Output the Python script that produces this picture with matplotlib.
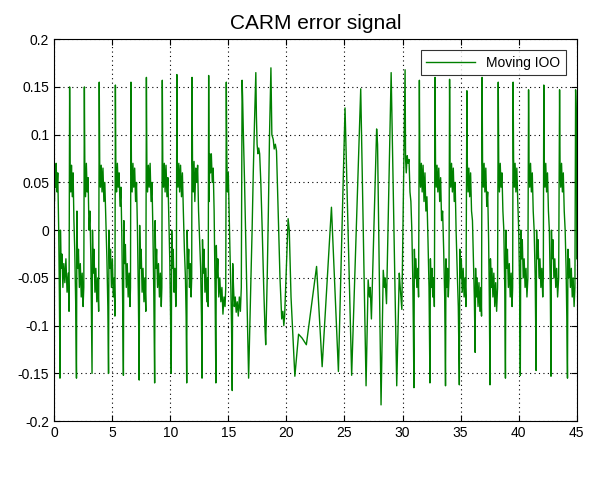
import numpy as np
import matplotlib
matplotlib.use("Agg")
import matplotlib.pyplot as plt

# CARM error signal, (time, error) pairs, three stretches

# fast part, 0 .. 18.7
fast_left = [
    (0.00, 0.115), (0.03, 0.03), (0.07, 0.068), (0.12, 0.045), (0.18, 0.07), (0.25, 0.04), (0.32, 0.06), (0.40, 0.0), (0.46, -0.07), (0.51, -0.155),
    (0.55, 0.0), (0.61, -0.04), (0.68, -0.025), (0.76, -0.06), (0.84, -0.035), (0.93, -0.055), (1.02, -0.03), (1.12, -0.065), (1.22, -0.045), (1.29, -0.085), (1.34, 0.15),
    (1.38, 0.065), (1.44, 0.04), (1.50, 0.068), (1.57, 0.035), (1.64, 0.06), (1.71, 0.01), (1.78, -0.02), (1.86, -0.075), (1.93, -0.155),
    (1.97, 0.02), (2.03, -0.04), (2.10, -0.02), (2.18, -0.06), (2.26, -0.035), (2.34, -0.07), (2.42, -0.045), (2.50, -0.08), (2.56, -0.06), (2.61, 0.15),
    (2.65, 0.065), (2.71, 0.035), (2.78, 0.07), (2.85, 0.04), (2.93, 0.055), (3.01, 0.0), (3.09, 0.02), (3.17, -0.03), (3.22, -0.09), (3.27, -0.15),
    (3.31, 0.0), (3.37, -0.045), (3.44, -0.02), (3.52, -0.065), (3.60, -0.04), (3.68, -0.075), (3.76, -0.05), (3.84, -0.085), (3.89, 0.155),
    (3.93, 0.07), (3.99, 0.045), (4.06, 0.068), (4.13, 0.04), (4.21, 0.065), (4.29, 0.03), (4.37, 0.05), (4.46, 0.01), (4.55, -0.03), (4.63, -0.08), (4.69, -0.15),
    (4.73, 0.0), (4.79, -0.04), (4.86, -0.02), (4.94, -0.06), (5.02, -0.03), (5.10, -0.07), (5.18, -0.05), (5.24, -0.09), (5.28, 0.152),
    (5.32, 0.065), (5.38, 0.04), (5.45, 0.07), (5.52, 0.045), (5.60, 0.06), (5.68, 0.025), (5.76, 0.045), (5.84, -0.01), (5.91, -0.08), (5.97, -0.152),
    (6.01, 0.01), (6.07, -0.035), (6.14, -0.015), (6.22, -0.06), (6.30, -0.035), (6.38, -0.07), (6.46, -0.045), (6.54, -0.08), (6.58, -0.06), (6.62, 0.155),
    (6.66, 0.068), (6.72, 0.04), (6.79, 0.07), (6.86, 0.045), (6.94, 0.065), (7.02, 0.03), (7.10, 0.05), (7.18, 0.0), (7.26, -0.07), (7.33, -0.157),
    (7.37, 0.005), (7.43, -0.04), (7.50, -0.02), (7.58, -0.065), (7.66, -0.04), (7.74, -0.075), (7.82, -0.05), (7.90, -0.085), (7.95, 0.16),
    (7.99, 0.07), (8.05, 0.04), (8.12, 0.068), (8.19, 0.045), (8.27, 0.07), (8.35, 0.03), (8.43, 0.05), (8.51, 0.0), (8.59, -0.07), (8.66, -0.16),
    (8.70, 0.01), (8.76, -0.04), (8.83, -0.02), (8.91, -0.06), (8.99, -0.035), (9.07, -0.07), (9.15, -0.045), (9.23, -0.08), (9.28, -0.06), (9.32, 0.157),
    (9.36, 0.07), (9.42, 0.045), (9.49, 0.07), (9.56, 0.04), (9.64, 0.068), (9.72, 0.035), (9.80, 0.055), (9.88, 0.01), (9.96, -0.03), (10.03, -0.09), (10.09, -0.15),
    (10.13, 0.0), (10.19, -0.04), (10.26, -0.02), (10.33, -0.065), (10.41, -0.04), (10.48, -0.08), (10.53, -0.06), (10.57, 0.163),
    (10.61, 0.07), (10.67, 0.045), (10.74, 0.07), (10.81, 0.04), (10.89, 0.068), (10.97, 0.035), (11.05, 0.06), (11.13, 0.02), (11.22, -0.02), (11.31, -0.05), (11.37, -0.09), (11.42, -0.16),
    (11.46, 0.0), (11.52, -0.04), (11.59, -0.02), (11.66, -0.06), (11.73, -0.035), (11.80, -0.07), (11.85, -0.05), (11.88, 0.16),
    (11.92, 0.07), (11.98, 0.04), (12.05, 0.072), (12.12, 0.03), (12.20, 0.065), (12.28, 0.05), (12.36, 0.068), (12.44, 0.02), (12.53, -0.01), (12.62, -0.04), (12.69, -0.09), (12.74, -0.155),
    (12.78, -0.01), (12.84, -0.045), (12.91, -0.02), (12.99, -0.065), (13.07, -0.04), (13.15, -0.075), (13.22, -0.05), (13.27, -0.08), (13.31, 0.162),
    (13.35, 0.03), (13.40, 0.08), (13.47, 0.06), (13.54, 0.08), (13.62, 0.05), (13.70, 0.065), (13.78, 0.02), (13.86, -0.06), (13.93, -0.16),
    (13.97, -0.016), (14.03, -0.05), (14.10, -0.03), (14.18, -0.07), (14.27, -0.05), (14.36, -0.075), (14.45, -0.06), (14.54, -0.088), (14.63, -0.07), (14.72, -0.08), (14.78, -0.06), (14.83, 0.155),
    (14.87, 0.08), (14.93, 0.04), (15.00, 0.06), (15.07, 0.02), (15.14, -0.02), (15.22, -0.06), (15.28, -0.1), (15.34, -0.168),
    (15.38, -0.035), (15.45, -0.06), (15.52, -0.08), (15.60, -0.07), (15.68, -0.086), (15.77, -0.075), (15.86, -0.09), (15.95, -0.07), (16.04, -0.085), (16.12, -0.06), (16.19, 0.157),
    (16.23, 0.14), (16.30, 0.1), (16.40, 0.05), (16.50, -0.01), (16.60, -0.07), (16.68, -0.12), (16.75, -0.155),
    (16.85, -0.1), (16.95, -0.05), (17.05, 0.0), (17.15, 0.06), (17.25, 0.11), (17.37, 0.165),
    (17.42, 0.12), (17.48, 0.09), (17.55, 0.08), (17.62, 0.086), (17.70, 0.08), (17.80, 0.05), (17.92, 0.0), (18.05, -0.06), (18.15, -0.1), (18.22, -0.12),
    (18.35, -0.05), (18.45, 0.02), (18.55, 0.1),
]

# slow part, 18.7 .. 30.2
slow_mid = [
    (18.67, 0.17), (18.75, 0.1), (18.87, 0.095), (18.95, 0.085), (19.05, 0.09), (19.15, 0.083), (19.30, 0.016), (19.45, -0.05),
    (19.60, -0.093), (19.70, -0.085), (19.78, -0.1), (19.85, -0.09), (20.15, 0.012), (20.25, 0.0), (20.40, -0.07), (20.73, -0.153),
    (21.05, -0.109), (21.35, -0.113), (21.72, -0.12), (22.60, -0.038), (23.08, -0.143), (23.88, 0.024), (24.48, -0.148),
    (25.05, 0.128), (25.62, -0.152), (26.40, 0.148), (26.86, -0.163), (27.04, -0.052), (27.15, -0.07), (27.22, -0.06), (27.32, -0.093),
    (27.77, 0.106), (27.85, 0.09), (28.15, -0.183), (28.34, -0.042), (28.45, -0.06), (28.50, -0.05), (28.62, -0.077),
    (29.02, 0.165), (29.50, -0.163), (29.72, -0.045), (29.80, -0.06), (29.94, -0.083),
]

# fast part again, 30.2 .. 45
fast_right = [
    (30.22, 0.168), (30.26, 0.075), (30.32, 0.06), (30.40, 0.078), (30.48, 0.07), (30.56, 0.074), (30.64, 0.04), (30.72, 0.03), (30.80, 0.0), (30.88, -0.05), (30.93, -0.1), (30.98, -0.165),
    (31.02, -0.02), (31.08, -0.05), (31.15, -0.03), (31.23, -0.06), (31.31, -0.04), (31.38, -0.07), (31.45, 0.157),
    (31.49, 0.07), (31.55, 0.045), (31.62, 0.07), (31.69, 0.04), (31.77, 0.068), (31.85, 0.03), (31.93, 0.06), (32.01, 0.02), (32.10, 0.035), (32.19, -0.01), (32.28, -0.06), (32.36, -0.16),
    (32.40, -0.03), (32.46, -0.06), (32.53, -0.04), (32.60, -0.07), (32.67, -0.05), (32.74, -0.08), (32.80, 0.16),
    (32.84, 0.07), (32.90, 0.045), (32.97, 0.068), (33.04, 0.04), (33.12, 0.065), (33.20, 0.03), (33.28, 0.055), (33.36, 0.01), (33.45, 0.02), (33.54, -0.02), (33.63, -0.07), (33.70, -0.163),
    (33.74, -0.03), (33.80, -0.06), (33.87, -0.04), (33.94, -0.07), (34.00, -0.05), (34.05, 0.158),
    (34.09, 0.07), (34.15, 0.045), (34.22, 0.07), (34.29, 0.04), (34.37, 0.065), (34.45, 0.03), (34.53, 0.05), (34.61, 0.0), (34.70, -0.04), (34.80, -0.08), (34.89, -0.162),
    (34.93, -0.02), (34.99, -0.05), (35.06, -0.03), (35.14, -0.065), (35.22, -0.04), (35.30, -0.07), (35.38, -0.05), (35.46, -0.08), (35.54, 0.146),
    (35.58, 0.07), (35.64, 0.04), (35.71, 0.065), (35.78, 0.035), (35.86, 0.06), (35.94, 0.02), (36.02, 0.01), (36.10, -0.03), (36.18, -0.07), (36.25, -0.128),
    (36.29, -0.04), (36.35, -0.07), (36.42, -0.05), (36.50, -0.08), (36.58, -0.055), (36.66, -0.085), (36.74, -0.06), (36.80, -0.09), (36.85, 0.16),
    (36.89, 0.07), (36.95, 0.045), (37.02, 0.07), (37.09, 0.04), (37.17, 0.065), (37.25, 0.025), (37.33, 0.04), (37.41, -0.01), (37.47, -0.07), (37.53, -0.162),
    (37.57, -0.03), (37.63, -0.06), (37.70, -0.04), (37.78, -0.07), (37.86, -0.045), (37.94, -0.08), (38.02, -0.055), (38.10, -0.085), (38.18, -0.06), (38.24, 0.155),
    (38.28, 0.07), (38.34, 0.04), (38.41, 0.07), (38.48, 0.045), (38.56, 0.06), (38.64, 0.02), (38.72, 0.0), (38.80, -0.06), (38.86, -0.155),
    (38.90, 0.0), (38.96, -0.04), (39.03, -0.02), (39.11, -0.06), (39.19, -0.035), (39.27, -0.07), (39.35, -0.045), (39.43, -0.08), (39.48, -0.06), (39.52, 0.155),
    (39.56, 0.075), (39.62, 0.045), (39.69, 0.07), (39.76, 0.04), (39.84, 0.065), (39.92, 0.03), (40.00, 0.0), (40.08, -0.06), (40.14, -0.152),
    (40.18, 0.0), (40.24, -0.03), (40.31, -0.01), (40.39, -0.05), (40.47, -0.03), (40.55, -0.06), (40.63, -0.04), (40.71, -0.07), (40.79, -0.05), (40.85, 0.147),
    (40.89, 0.07), (40.95, 0.045), (41.02, 0.07), (41.09, 0.04), (41.17, 0.06), (41.25, 0.02), (41.33, 0.0), (41.42, -0.05), (41.50, -0.147),
    (41.54, 0.0), (41.60, -0.03), (41.67, -0.01), (41.75, -0.05), (41.83, -0.03), (41.91, -0.06), (41.99, -0.04), (42.07, -0.07), (42.12, -0.05), (42.16, 0.152),
    (42.20, 0.07), (42.26, 0.045), (42.33, 0.07), (42.40, 0.04), (42.48, 0.06), (42.56, 0.02), (42.64, 0.0), (42.72, -0.06), (42.78, -0.153),
    (42.82, 0.0), (42.88, -0.03), (42.95, -0.01), (43.03, -0.05), (43.11, -0.03), (43.19, -0.06), (43.27, -0.04), (43.35, -0.07), (43.44, -0.05), (43.52, 0.147),
    (43.56, 0.07), (43.62, 0.045), (43.69, 0.07), (43.76, 0.04), (43.84, 0.06), (43.92, 0.02), (44.00, 0.0), (44.08, -0.04), (44.14, -0.09), (44.20, -0.155),
    (44.24, -0.02), (44.30, -0.05), (44.37, -0.03), (44.45, -0.06), (44.53, -0.04), (44.61, -0.07), (44.69, -0.05), (44.77, -0.08), (44.84, -0.06), (44.90, 0.147),
    (44.93, 0.133), (44.98, 0.10), (45.00, -0.03),
]

x_ticks = [0, 5, 10, 15, 20, 25, 30, 35, 40, 45]
y_ticks = [-0.2, -0.15, -0.1, -0.05, 0, 0.05, 0.1, 0.15, 0.2]
y_ticklabels = ["-0.2", "-0.15", "-0.1", "-0.05", "0", "0.05", "0.1", "0.15", "0.2"]

pts = np.array(fast_left + slow_mid + fast_right)
t = pts[:, 0]
err = pts[:, 1]

plt.rcParams["font.family"] = ["Liberation Sans", "DejaVu Sans"]

fig = plt.figure(figsize=(5.94, 4.78), dpi=100)
ax = fig.add_axes([0.091, 0.119, 0.88, 0.799])

ax.plot(t, err, color=(0, 0.5, 0), lw=1.0, label="Moving IOO")

ax.set_xlim(0, 45)
ax.set_ylim(-0.2, 0.2)
ax.set_xticks(x_ticks)
ax.set_yticks(y_ticks)
ax.set_yticklabels(y_ticklabels)
ax.tick_params(direction="in", top=True, right=True, labelsize=10, length=4)
ax.grid(True, color="black", linestyle=(0, (1, 3)), linewidth=0.8)
ax.set_title("CARM error signal", fontsize=15, pad=7)

leg = ax.legend(loc="upper right", fancybox=False, edgecolor="black", fontsize=10,
                handlelength=3.5, borderaxespad=0.8)
leg.get_frame().set_linewidth(0.8)

fig.savefig("out.png", dpi=100)
